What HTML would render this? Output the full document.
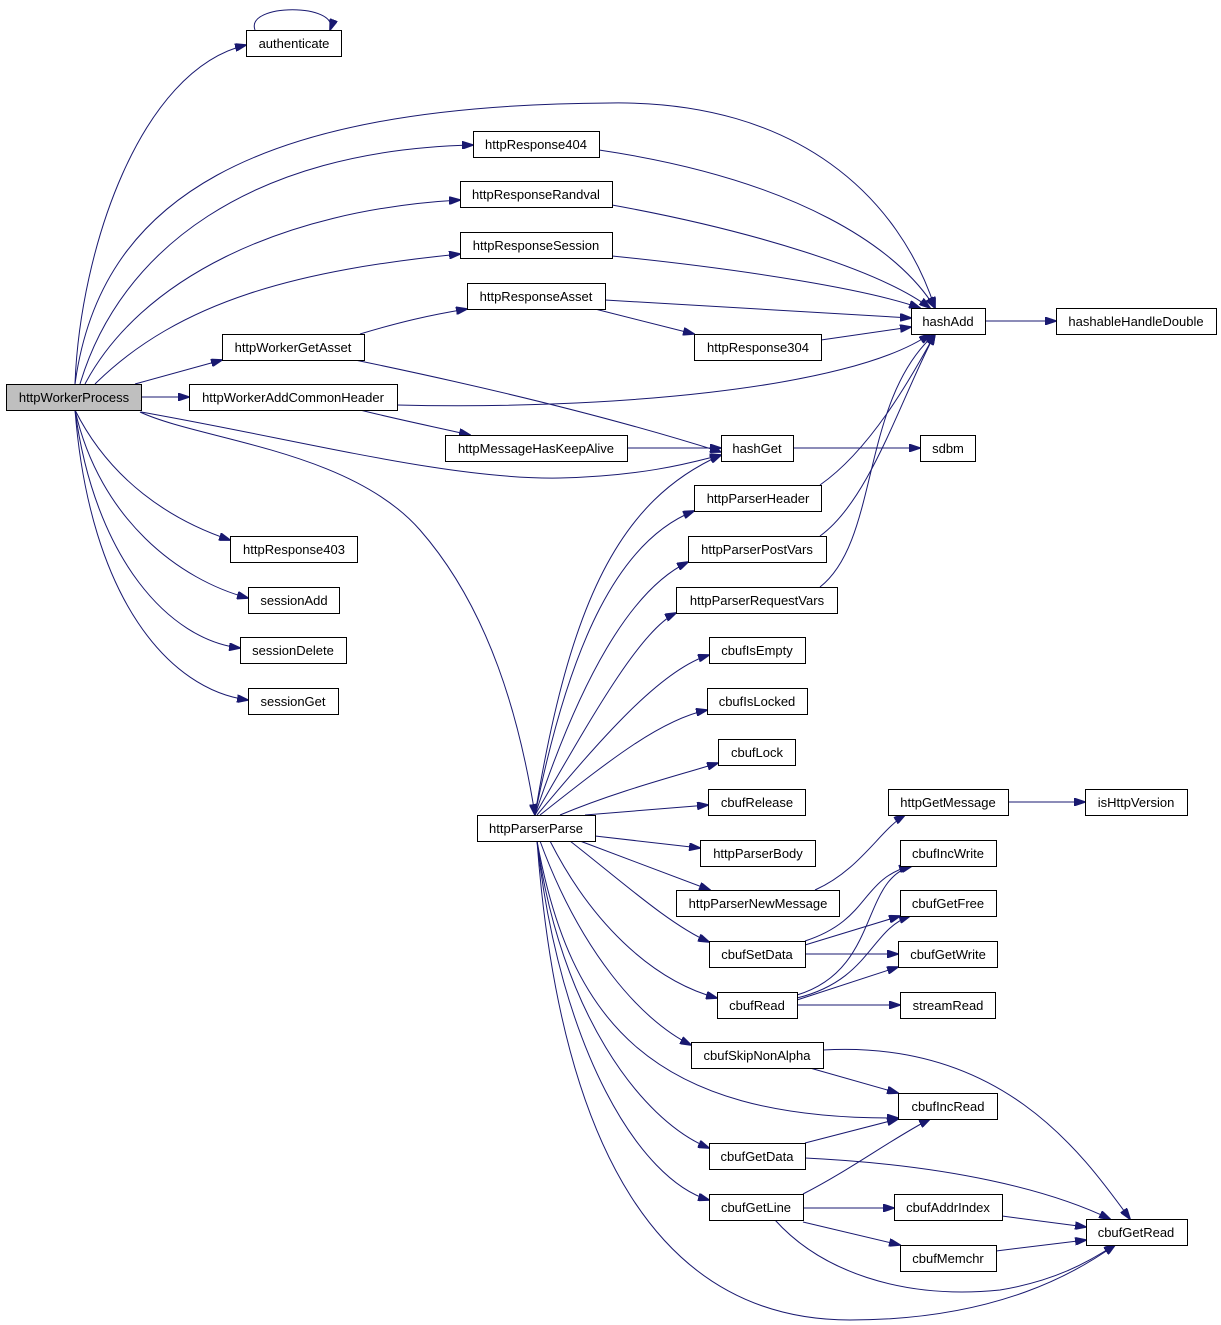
<!DOCTYPE html>
<html><head><meta charset="utf-8"><style>
html,body{margin:0;padding:0;background:#fff;}
svg{display:block;}
text{font-family:"Liberation Sans",Helvetica,sans-serif;font-size:13px;fill:#000;}
path{fill:none;stroke:#191970;stroke-width:1;}
rect{fill:#fff;stroke:#000;stroke-width:1;}
</style></head><body>
<svg width="1221" height="1325" viewBox="0 0 1221 1325" xmlns="http://www.w3.org/2000/svg">
<defs><marker id="a" markerWidth="12" markerHeight="8" refX="11" refY="4" orient="auto" markerUnits="userSpaceOnUse"><path d="M0,0 L12,4 L0,8 Z" style="fill:#191970;stroke:#191970"/></marker></defs>
<g marker-end="url(#a)">
<path d="M255,30 C245,3 340,3 330,30"/>
<path d="M75,384 C80,250 140,70 246,45"/>
<path d="M75,384 C100,200 250,105 610,103 C800,100 900,200 935,308"/>
<path d="M80,384 C120,250 250,150 473,145"/>
<path d="M85,384 C140,280 280,210 460,200"/>
<path d="M95,384 C180,300 300,270 460,254"/>
<path d="M135,384 L222,360"/>
<path d="M141,397 L189,397"/>
<path d="M141,412 C300,440 450,480 560,478 C650,476 700,460 721,455"/>
<path d="M140,412 C200,440 350,450 420,530 C490,610 520,720 535,815"/>
<path d="M75,410 C110,480 170,520 230,540"/>
<path d="M75,410 C100,520 180,580 248,598"/>
<path d="M75,410 C95,560 170,640 240,648"/>
<path d="M75,410 C90,600 170,690 248,700"/>
<path d="M360,334 C400,322 430,315 467,309"/>
<path d="M355,360 C500,390 620,420 721,452"/>
<path d="M397,405 C600,410 850,390 930,334"/>
<path d="M360,410 C400,420 440,428 470,435"/>
<path d="M627,448 L721,448"/>
<path d="M599,150 C800,180 900,250 935,308"/>
<path d="M612,205 C750,230 880,270 930,308"/>
<path d="M612,256 C750,270 870,290 920,308"/>
<path d="M605,300 L911,318"/>
<path d="M595,309 L694,334"/>
<path d="M821,340 L911,327"/>
<path d="M985,321 L1056,321"/>
<path d="M793,448 L920,448"/>
<path d="M820,485 C870,450 910,380 935,334"/>
<path d="M820,536 C870,500 900,400 935,334"/>
<path d="M820,587 C880,540 860,400 935,334"/>
<path d="M535,815 C570,600 620,500 721,455"/>
<path d="M535,815 C570,640 620,540 694,511"/>
<path d="M535,815 C580,680 630,590 688,562"/>
<path d="M535,815 C590,720 640,630 676,613"/>
<path d="M537,815 C600,740 660,670 709,655"/>
<path d="M540,815 C610,760 660,720 707,710"/>
<path d="M560,815 C620,790 680,775 718,763"/>
<path d="M585,815 L708,805"/>
<path d="M595,836 L700,848"/>
<path d="M580,841 L710,890"/>
<path d="M570,841 C620,880 670,925 709,942"/>
<path d="M550,841 C590,920 650,980 717,998"/>
<path d="M540,841 C580,950 640,1020 691,1045"/>
<path d="M537,841 C570,1020 650,1120 898,1118"/>
<path d="M537,841 C560,1010 640,1120 709,1148"/>
<path d="M537,841 C560,1050 640,1180 709,1200"/>
<path d="M537,841 C560,1150 660,1320 850,1320 C1000,1320 1080,1270 1115,1245"/>
<path d="M815,890 C860,870 880,830 905,815"/>
<path d="M1008,802 L1085,802"/>
<path d="M805,941 C870,920 860,880 910,866"/>
<path d="M805,945 L900,916"/>
<path d="M805,954 L898,954"/>
<path d="M797,995 C880,970 860,880 912,866"/>
<path d="M797,998 C870,980 870,930 910,916"/>
<path d="M797,1000 L898,967"/>
<path d="M797,1005 L900,1005"/>
<path d="M810,1068 L898,1093"/>
<path d="M823,1050 C1000,1040 1080,1150 1130,1219"/>
<path d="M805,1143 L898,1119"/>
<path d="M805,1158 C950,1165 1050,1190 1110,1219"/>
<path d="M803,1194 C850,1170 890,1140 930,1119"/>
<path d="M803,1208 L894,1208"/>
<path d="M803,1222 L900,1245"/>
<path d="M775,1220 C820,1270 900,1300 1000,1290 C1060,1280 1090,1260 1115,1245"/>
<path d="M1002,1216 L1086,1227"/>
<path d="M996,1251 L1086,1240"/>
</g>
<g>
<rect x="6.5" y="384.5" width="135" height="26" style="fill:#bfbfbf"/><text x="74" y="402" text-anchor="middle">httpWorkerProcess</text>
<rect x="246.5" y="30.5" width="95" height="26"/><text x="294" y="48" text-anchor="middle">authenticate</text>
<rect x="473.5" y="131.5" width="126" height="26"/><text x="536" y="149" text-anchor="middle">httpResponse404</text>
<rect x="460.5" y="181.5" width="152" height="26"/><text x="536" y="199" text-anchor="middle">httpResponseRandval</text>
<rect x="460.5" y="232.5" width="152" height="26"/><text x="536" y="250" text-anchor="middle">httpResponseSession</text>
<rect x="467.5" y="283.5" width="138" height="26"/><text x="536" y="301" text-anchor="middle">httpResponseAsset</text>
<rect x="222.5" y="334.5" width="142" height="26"/><text x="293" y="352" text-anchor="middle">httpWorkerGetAsset</text>
<rect x="694.5" y="334.5" width="127" height="26"/><text x="758" y="352" text-anchor="middle">httpResponse304</text>
<rect x="911.5" y="308.5" width="74" height="26"/><text x="948" y="326" text-anchor="middle">hashAdd</text>
<rect x="1056.5" y="308.5" width="160" height="26"/><text x="1136" y="326" text-anchor="middle">hashableHandleDouble</text>
<rect x="189.5" y="384.5" width="208" height="26"/><text x="293" y="402" text-anchor="middle">httpWorkerAddCommonHeader</text>
<rect x="445.5" y="435.5" width="182" height="26"/><text x="536" y="453" text-anchor="middle">httpMessageHasKeepAlive</text>
<rect x="721.5" y="435.5" width="72" height="26"/><text x="757" y="453" text-anchor="middle">hashGet</text>
<rect x="920.5" y="435.5" width="55" height="26"/><text x="948" y="453" text-anchor="middle">sdbm</text>
<rect x="694.5" y="485.5" width="127" height="26"/><text x="758" y="503" text-anchor="middle">httpParserHeader</text>
<rect x="688.5" y="536.5" width="138" height="26"/><text x="757" y="554" text-anchor="middle">httpParserPostVars</text>
<rect x="676.5" y="587.5" width="161" height="26"/><text x="757" y="605" text-anchor="middle">httpParserRequestVars</text>
<rect x="709.5" y="637.5" width="96" height="26"/><text x="757" y="655" text-anchor="middle">cbufIsEmpty</text>
<rect x="707.5" y="688.5" width="100" height="26"/><text x="757" y="706" text-anchor="middle">cbufIsLocked</text>
<rect x="718.5" y="739.5" width="77" height="26"/><text x="757" y="757" text-anchor="middle">cbufLock</text>
<rect x="708.5" y="789.5" width="97" height="26"/><text x="757" y="807" text-anchor="middle">cbufRelease</text>
<rect x="477.5" y="815.5" width="118" height="26"/><text x="536" y="833" text-anchor="middle">httpParserParse</text>
<rect x="700.5" y="840.5" width="115" height="26"/><text x="758" y="858" text-anchor="middle">httpParserBody</text>
<rect x="676.5" y="890.5" width="163" height="26"/><text x="758" y="908" text-anchor="middle">httpParserNewMessage</text>
<rect x="709.5" y="941.5" width="96" height="26"/><text x="757" y="959" text-anchor="middle">cbufSetData</text>
<rect x="717.5" y="992.5" width="80" height="26"/><text x="757" y="1010" text-anchor="middle">cbufRead</text>
<rect x="691.5" y="1042.5" width="132" height="26"/><text x="757" y="1060" text-anchor="middle">cbufSkipNonAlpha</text>
<rect x="709.5" y="1143.5" width="96" height="26"/><text x="757" y="1161" text-anchor="middle">cbufGetData</text>
<rect x="709.5" y="1194.5" width="94" height="26"/><text x="756" y="1212" text-anchor="middle">cbufGetLine</text>
<rect x="888.5" y="789.5" width="120" height="26"/><text x="948" y="807" text-anchor="middle">httpGetMessage</text>
<rect x="1085.5" y="789.5" width="102" height="26"/><text x="1136" y="807" text-anchor="middle">isHttpVersion</text>
<rect x="900.5" y="840.5" width="96" height="26"/><text x="948" y="858" text-anchor="middle">cbufIncWrite</text>
<rect x="900.5" y="890.5" width="96" height="26"/><text x="948" y="908" text-anchor="middle">cbufGetFree</text>
<rect x="898.5" y="941.5" width="99" height="26"/><text x="948" y="959" text-anchor="middle">cbufGetWrite</text>
<rect x="900.5" y="992.5" width="95" height="26"/><text x="948" y="1010" text-anchor="middle">streamRead</text>
<rect x="898.5" y="1093.5" width="99" height="26"/><text x="948" y="1111" text-anchor="middle">cbufIncRead</text>
<rect x="894.5" y="1194.5" width="108" height="26"/><text x="948" y="1212" text-anchor="middle">cbufAddrIndex</text>
<rect x="900.5" y="1245.5" width="96" height="26"/><text x="948" y="1263" text-anchor="middle">cbufMemchr</text>
<rect x="1086.5" y="1219.5" width="101" height="26"/><text x="1136" y="1237" text-anchor="middle">cbufGetRead</text>
<rect x="230.5" y="536.5" width="127" height="26"/><text x="294" y="554" text-anchor="middle">httpResponse403</text>
<rect x="248.5" y="587.5" width="91" height="26"/><text x="294" y="605" text-anchor="middle">sessionAdd</text>
<rect x="240.5" y="637.5" width="106" height="26"/><text x="293" y="655" text-anchor="middle">sessionDelete</text>
<rect x="248.5" y="688.5" width="90" height="26"/><text x="293" y="706" text-anchor="middle">sessionGet</text>
</g>
</svg>
</body></html>
